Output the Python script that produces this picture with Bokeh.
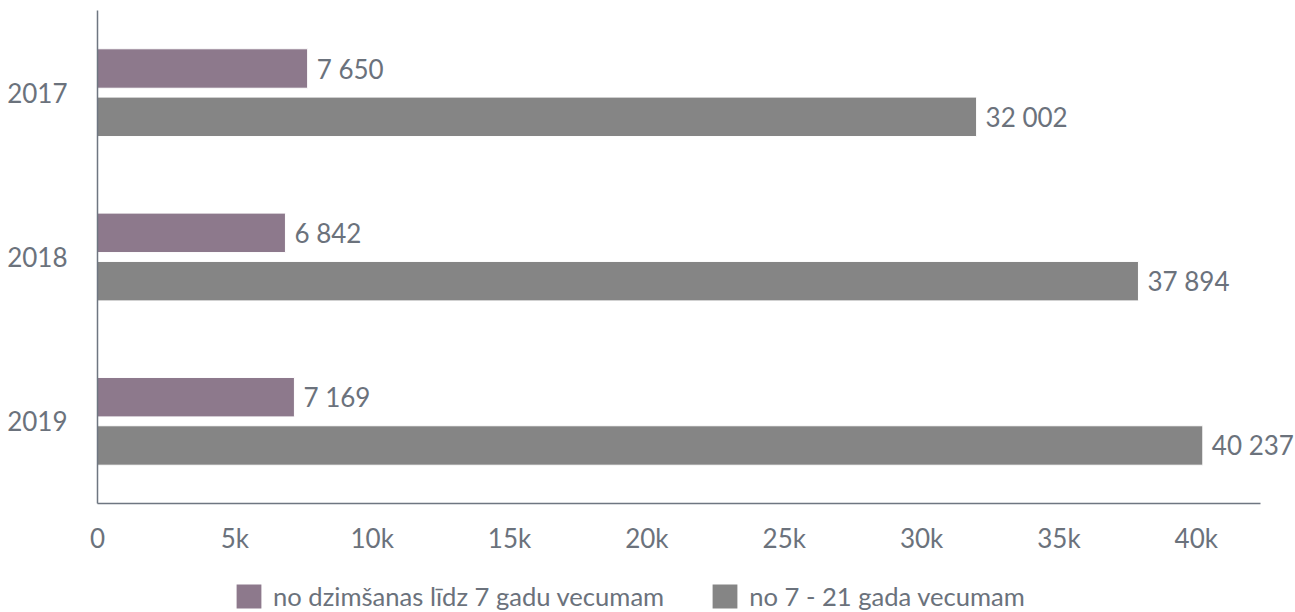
from bokeh.plotting import figure
from bokeh.layouts import column
from bokeh.models import (ColumnDataSource, FactorRange, Range1d, LabelSet, Legend, LegendItem,
                          FixedTicker, NumeralTickFormatter)
from bokeh.core.properties import value
from bokeh.transform import dodge
from bokeh.embed import file_html
from bokeh.resources import INLINE

years = ["2017", "2018", "2019"]
series_names = ["no dzimšanas līdz 7 gadu vecumam", "no 7 - 21 gada vecumam"]
under7 = [7650, 6842, 7169]
age7_21 = [32002, 37894, 40237]
x_ticks = [0, 5000, 10000, 15000, 20000, 25000, 30000, 35000, 40000]
axis_max = 42337
view_max = 43611

colors = ["#8d798c", "#858585"]
text_color = "#6b727c"
axis_color = "#6e7681"
FONT = "Lato"
W = 1295

def fmt(v):
    return f"{v:,}".replace(",", " ")

src = ColumnDataSource(dict(
    year=years,
    a=under7,
    b=age7_21,
    a_lbl=[fmt(v) for v in under7],
    b_lbl=[fmt(v) for v in age7_21],
))

p = figure(width=W, height=563, output_backend="svg", toolbar_location=None,
           y_range=FactorRange(factors=years[::-1], range_padding=0),
           x_range=Range1d(0, view_max),
           min_border_left=97, min_border_right=0, min_border_top=10, min_border_bottom=60)

off = 0.147
h = 0.24
r1 = p.hbar(y=dodge("year", off, range=p.y_range), right="a", height=h, left=0, source=src,
            fill_color=colors[0], line_color="white", line_width=1)
r2 = p.hbar(y=dodge("year", -off, range=p.y_range), right="b", height=h, left=0, source=src,
            fill_color=colors[1], line_color="white", line_width=1)

for col, lbl, o in (("a", "a_lbl", off), ("b", "b_lbl", -off)):
    p.add_layout(LabelSet(x=col, y=dodge("year", o, range=p.y_range), text=lbl, source=src,
                          x_offset=9, text_baseline="middle", text_align="left",
                          text_font=value(FONT), text_font_size="26px", text_color=text_color))

p.xgrid.visible = False
p.ygrid.visible = False
p.outline_line_color = None

p.xaxis.ticker = FixedTicker(ticks=x_ticks)
p.xaxis.formatter = NumeralTickFormatter(format="0a")
p.xaxis.bounds = (0, axis_max)
for ax in (p.xaxis[0], p.yaxis[0]):
    ax.axis_line_color = axis_color
    ax.axis_line_width = 1.5
    ax.major_tick_line_color = None
    ax.minor_tick_line_color = None
    ax.major_label_text_font = FONT
    ax.major_label_text_font_size = "26px"
    ax.major_label_text_color = text_color
p.xaxis.major_label_standoff = 12
p.yaxis.major_label_standoff = 24

# legend strip below the chart (hidden renderers carry the series styles)
lg = figure(width=W, height=49, output_backend="svg", toolbar_location=None,
            x_range=Range1d(0, 1), y_range=Range1d(0, 1),
            min_border_left=97, min_border_right=0, min_border_top=0, min_border_bottom=0)
lg.axis.visible = False
lg.grid.visible = False
lg.outline_line_color = None
l1 = lg.hbar(y=0.5, right="a", height=0.5, left=0, source=src, fill_color=colors[0], line_color=None)
l2 = lg.hbar(y=0.5, right="b", height=0.5, left=0, source=src, fill_color=colors[1], line_color=None)
l1.visible = False
l2.visible = False

legend = Legend(items=[LegendItem(label=series_names[0], renderers=[l1]),
                       LegendItem(label=series_names[1], renderers=[l2])],
                orientation="horizontal", location=(136, 1),
                padding=0, margin=0, spacing=45, border_line_color=None,
                background_fill_alpha=0, inactive_fill_alpha=0,
                glyph_width=31, glyph_height=30, label_standoff=9,
                label_text_font=FONT, label_text_font_size="25.6px",
                label_text_color=text_color, label_height=30)
lg.add_layout(legend, "center")

open("out.html", "w").write(file_html(column(p, lg, spacing=0), INLINE))
